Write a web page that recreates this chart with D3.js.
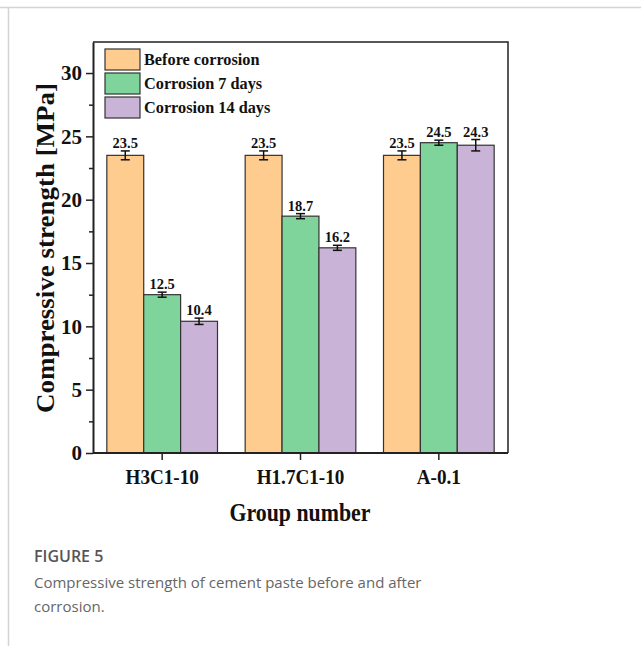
<!DOCTYPE html>
<html>
<head>
<meta charset="utf-8">
<script src="https://cdn.jsdelivr.net/npm/d3@7"></script>
<style>
  body { margin: 0; background: #fff; }
  svg { display: block; }
</style>
</head>
<body>
<div id="chart"></div>
<script>
// data
var groups = ["H3C1-10", "H1.7C1-10", "A-0.1"];
var seriesNames = ["Before corrosion", "Corrosion 7 days", "Corrosion 14 days"];
var seriesColors = ["#ffcc8f", "#7fd49c", "#c9b3d6"];
var beforeVals = [23.5, 23.5, 23.5];
var day7Vals = [12.5, 18.7, 24.5];
var day14Vals = [10.4, 16.2, 24.3];
var beforeErr = [0.35, 0.35, 0.35];
var day7Err = [0.2, 0.2, 0.2];
var day14Err = [0.25, 0.2, 0.45];
var yTicks = [0, 5, 10, 15, 20, 25, 30];

var W = 641, H = 646;
var m = { left: 93, right: 508, top: 42, bottom: 453 };

var svg = d3.select("#chart").append("svg")
  .attr("width", W)
  .attr("height", H);

// page frame lines
svg.append("line").attr("x1", 0).attr("x2", W).attr("y1", 7.5).attr("y2", 7.5)
  .attr("stroke", "#d4d4d4").attr("stroke-width", 1.5);
svg.append("line").attr("x1", 8.5).attr("x2", 8.5).attr("y1", 7).attr("y2", H)
  .attr("stroke", "#d4d4d4").attr("stroke-width", 1.5);

var x = d3.scaleBand()
  .domain(groups)
  .range([m.left, m.right])
  .paddingInner(0.2)
  .paddingOuter(0.1);

var xs = d3.scaleBand()
  .domain(d3.range(3))
  .range([0, x.bandwidth()]);

var y = d3.scaleLinear()
  .domain([0, 32.45])
  .range([m.bottom, m.top]);

var rows = [];
groups.forEach(function(g, i) {
  [beforeVals, day7Vals, day14Vals].forEach(function(vals, s) {
    rows.push({ g: g, s: s, v: vals[i], e: [beforeErr, day7Err, day14Err][s][i] });
  });
});

// bars
svg.selectAll("rect.bar").data(rows).enter().append("rect")
  .attr("class", "bar")
  .attr("x", d => x(d.g) + xs(d.s))
  .attr("y", d => y(d.v))
  .attr("width", xs.bandwidth())
  .attr("height", d => y(0) - y(d.v))
  .attr("fill", d => seriesColors[d.s])
  .attr("stroke", "#333")
  .attr("stroke-width", 1.2);

// error bars
var eb = svg.selectAll("g.err").data(rows).enter().append("g")
  .attr("stroke", "#111").attr("stroke-width", 1.5);
eb.append("line")
  .attr("x1", d => x(d.g) + xs(d.s) + xs.bandwidth() / 2)
  .attr("x2", d => x(d.g) + xs(d.s) + xs.bandwidth() / 2)
  .attr("y1", d => y(d.v + d.e))
  .attr("y2", d => y(d.v - d.e));
[1, -1].forEach(function(k) {
  eb.append("line")
    .attr("x1", d => x(d.g) + xs(d.s) + xs.bandwidth() / 2 - 4.5)
    .attr("x2", d => x(d.g) + xs(d.s) + xs.bandwidth() / 2 + 4.5)
    .attr("y1", d => y(d.v + k * d.e))
    .attr("y2", d => y(d.v + k * d.e));
});

// value labels
svg.selectAll("text.val").data(rows).enter().append("text")
  .attr("x", d => x(d.g) + xs(d.s) + xs.bandwidth() / 2)
  .attr("y", d => y(d.v + d.e) - 3)
  .attr("text-anchor", "middle")
  .attr("font-family", "Liberation Serif, serif")
  .attr("font-weight", "bold")
  .attr("font-size", 14.5)
  .attr("fill", "#111")
  .text(d => d.v.toFixed(1));

// frame top/right
svg.append("path")
  .attr("d", "M" + m.left + "," + m.top + "H" + m.right + "V" + m.bottom)
  .attr("fill", "none").attr("stroke", "#222").attr("stroke-width", 1.5);

// axes
var yAxis = svg.append("g")
  .attr("transform", "translate(" + m.left + ",0)")
  .call(d3.axisLeft(y).tickValues(yTicks).tickSize(7).tickPadding(4).tickSizeOuter(0));
svg.append("g")
  .attr("transform", "translate(" + m.left + ",0)")
  .call(d3.axisLeft(y).tickValues([2.5, 7.5, 12.5, 17.5, 22.5, 27.5]).tickSize(4).tickFormat("").tickSizeOuter(0))
  .call(g => g.select(".domain").remove());
var xAxis = svg.append("g")
  .attr("transform", "translate(0," + m.bottom + ")")
  .call(d3.axisBottom(x).tickSize(7).tickPadding(8).tickSizeOuter(0));
// extend bottom domain across the whole plot
xAxis.select(".domain").attr("d", "M" + m.left + ",0H" + m.right);

svg.selectAll(".tick line").attr("stroke", "#222").attr("stroke-width", 1.5);
svg.selectAll(".domain").attr("stroke", "#222").attr("stroke-width", 2);
svg.selectAll(".tick text")
  .attr("font-family", "Liberation Serif, serif")
  .attr("font-weight", "bold")
  .attr("font-size", 21)
  .attr("fill", "#111");
xAxis.selectAll(".tick text")
  .attr("font-size", 22)
  .attr("textLength", function() { return this.getComputedTextLength() * 0.87; })
  .attr("lengthAdjust", "spacingAndGlyphs");

// axis titles
svg.append("text")
  .attr("transform", "translate(54,248) rotate(-90)")
  .attr("text-anchor", "middle")
  .attr("font-family", "Liberation Serif, serif")
  .attr("font-weight", "bold")
  .attr("font-size", 25)
  .attr("fill", "#111")
  .attr("textLength", 330)
  .attr("lengthAdjust", "spacingAndGlyphs")
  .text("Compressive strength [MPa]");
svg.append("text")
  .attr("x", 300)
  .attr("y", 521)
  .attr("text-anchor", "middle")
  .attr("font-family", "Liberation Serif, serif")
  .attr("font-weight", "bold")
  .attr("font-size", 26)
  .attr("fill", "#111")
  .attr("textLength", 141)
  .attr("lengthAdjust", "spacingAndGlyphs")
  .text("Group number");

// legend
var lg = svg.selectAll("g.leg").data(seriesNames).enter().append("g")
  .attr("transform", (d, i) => "translate(105," + (49 + i * 24) + ")");
lg.append("rect")
  .attr("width", 35).attr("height", 21)
  .attr("fill", (d, i) => seriesColors[i])
  .attr("stroke", "#333").attr("stroke-width", 1.2);
lg.append("text")
  .attr("x", 39).attr("y", 16)
  .attr("font-family", "Liberation Serif, serif")
  .attr("font-weight", "bold")
  .attr("font-size", 17.5)
  .attr("fill", "#111")
  .attr("textLength", function() { return this.getComputedTextLength() * 0.92; })
  .attr("lengthAdjust", "spacingAndGlyphs")
  .text(d => d)
  .attr("textLength", function() { return this.getComputedTextLength() * 0.93; });

// caption
svg.append("text")
  .attr("x", 34).attr("y", 562)
  .attr("font-family", "Open Sans, sans-serif")
  .attr("font-size", 16)
  .attr("font-weight", 600)
  .attr("fill", "#555")
  .text("FIGURE 5");
svg.append("text")
  .attr("x", 34).attr("y", 588)
  .attr("font-family", "Open Sans, sans-serif")
  .attr("font-size", 15)
  .attr("fill", "#666")
  .text("Compressive strength of cement paste before and after");
svg.append("text")
  .attr("x", 34).attr("y", 612)
  .attr("font-family", "Open Sans, sans-serif")
  .attr("font-size", 15)
  .attr("fill", "#666")
  .text("corrosion.");
</script>
</body>
</html>
